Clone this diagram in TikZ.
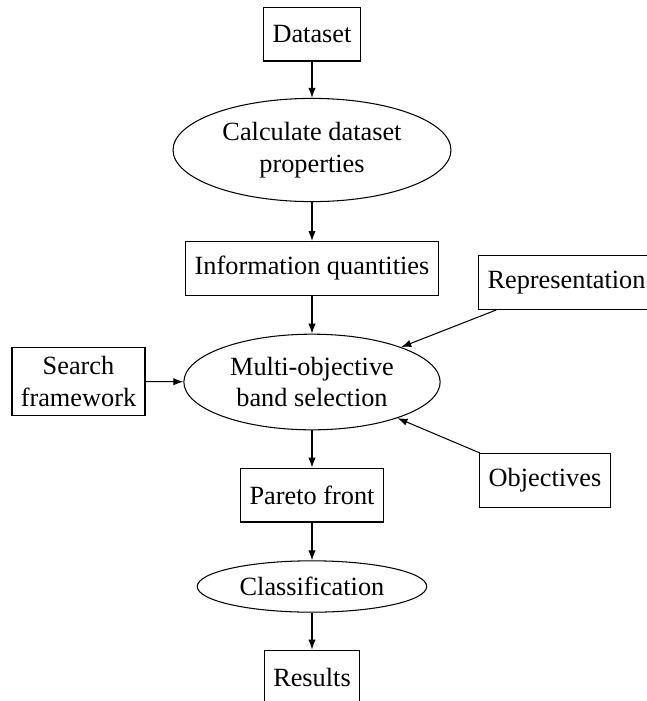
\documentclass[tikz,border=0pt]{standalone}
\usepackage{fontspec}
\setmainfont{Liberation Serif}
\usetikzlibrary{arrows.meta,shapes.geometric}
\tikzset{
    % rectangular step of the pipeline
    stepbox/.style={
        draw, rectangle, minimum height=20.5pt, align=center
    },
    % processing step (ellipse)
    procnode/.style={
        draw, ellipse, align=center
    },
    % connector
    flow/.style={-{Latex[length=3.8pt,width=2.8pt]}}
}
\begin{document}
\begin{tikzpicture}[x=0.38pt,y=-0.38pt]
  \useasboundingbox (0,0) rectangle (647,701);
  % main chain
  \node[stepbox]  (data)    at (312,34)    {Dataset};
  \node[procnode] (calc)    at (312,150)   {Calculate dataset\\properties};
  \node[stepbox]  (info)    at (312,268.5) {Information quantities};
  \node[procnode] (multi)   at (312,382)   {Multi-objective\\band selection};
  \node[stepbox]  (pareto)  at (312,495)   {Pareto front};
  \node[procnode] (classif) at (312,586.5) {Classification};
  \node[stepbox]  (results) at (312,677)   {Results};
  % side inputs
  \node[stepbox]  (repr)    at (566.5,282.5) {Representation};
  \node[stepbox]  (search)  at (78.5,381.5)  {Search\\framework};
  \node[stepbox]  (objs)    at (545,480.5)   {Objectives};
  \draw[flow] (data)--(calc);
  \draw[flow] (calc)--(info);
  \draw[flow] (info)--(multi);
  \draw[flow] (multi)--(pareto);
  \draw[flow] (pareto)--(classif);
  \draw[flow] (classif)--(results);
  \draw[flow] (repr)--(multi);
  \draw[flow] (search)--(multi);
  \draw[flow] (objs)--(multi);
\end{tikzpicture}
\end{document}
